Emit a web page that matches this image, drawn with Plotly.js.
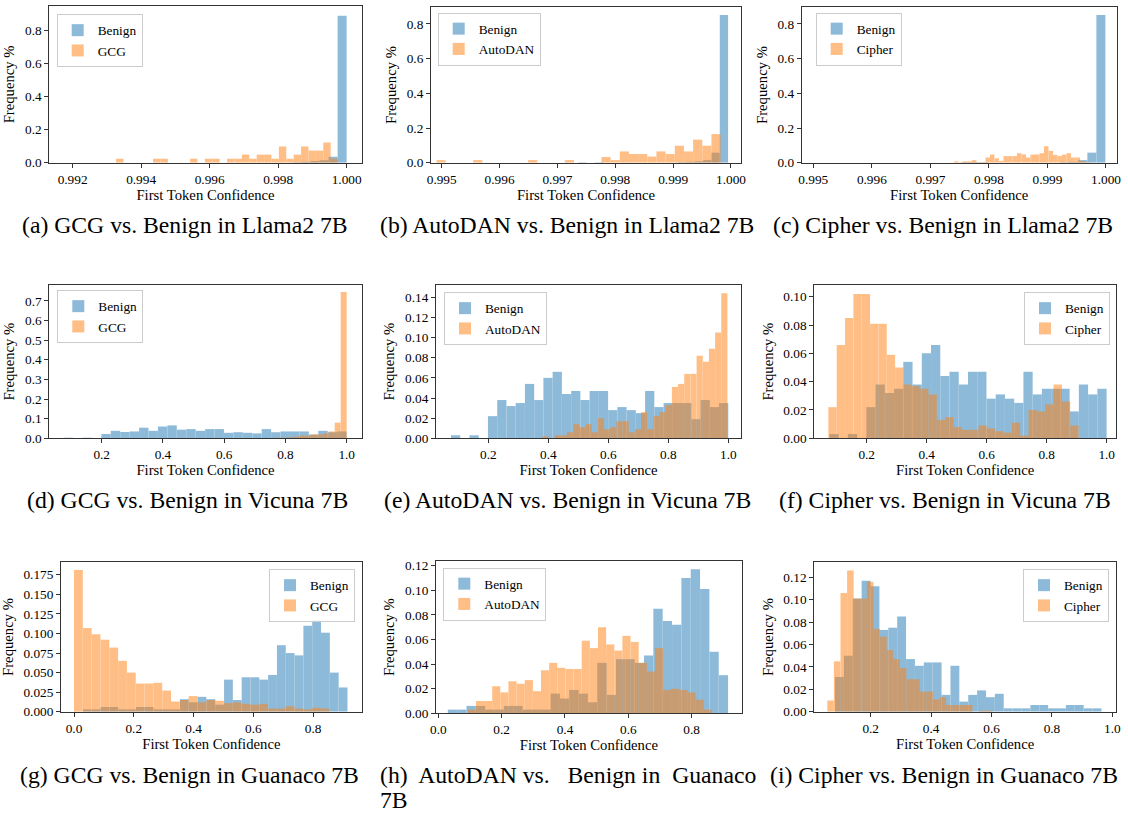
<!DOCTYPE html>
<html><head><meta charset="utf-8">
<script src="https://cdn.plot.ly/plotly-3.0.1.min.js"></script>
<style>html,body{margin:0;padding:0;background:#fff;}#chart{width:1128px;height:815px;}</style>
</head><body><div id="chart"></div>
<script>
// ---------------- DATA (histogram bins: start, width, heights) ----------------
const attackNames = ['GCG','AutoDAN','Cipher','GCG','AutoDAN','Cipher','GCG','AutoDAN','Cipher'];
const captions = ['(a) GCG vs. Benign in Llama2 7B','(b) AutoDAN vs. Benign in Llama2 7B','(c) Cipher vs. Benign in Llama2 7B',
  '(d) GCG vs. Benign in Vicuna 7B','(e) AutoDAN vs. Benign in Vicuna 7B','(f) Cipher vs. Benign in Vicuna 7B',
  '(g) GCG vs. Benign in Guanaco 7B','(h)\u00a0 AutoDAN vs.\u00a0\u00a0 Benign in\u00a0 Guanaco','7B','(i) Cipher vs. Benign in Guanaco 7B'];

// (a) Llama2 7B: Benign / GCG
const aBenignStart = 0.99211, aBenignWidth = 0.000263;
const aBenign = [0,0,0,0,0,0,0,0,0,0,0,0,0,0,0,0,0,0,0,0,0,0,0,0,0.003,0.005,0.010,0.015,0.036,0.888];
const aAttackStart = 0.99327, aAttackWidth = 0.000216;
const aAttack = [0.024,0,0,0,0,0.024,0.024,0,0,0,0.024,0,0.024,0.024,0,0.024,0.024,0.049,0.024,0.049,0.049,0.024,0.098,0.024,0.049,0.098,0.073,0.073,0.122,0.024];

// (b) Llama2 7B: Benign / AutoDAN
const bBenignStart = 0.99563, bBenignWidth = 0.000144;
const bBenign = [0,0,0,0,0,0,0,0,0,0,0,0,0.003,0,0.003,0,0,0,0,0,0,0,0,0,0.003,0.005,0.008,0.015,0.058,0.852];
const bAttackStart = 0.99491, bAttackWidth = 0.0001584;
const bAttack = [0.015,0,0,0,0.015,0,0,0,0,0,0.015,0,0,0,0.015,0,0,0,0.033,0.015,0.065,0.050,0.050,0.035,0.065,0.050,0.098,0.065,0.133,0.098,0.165];

// (c) Llama2 7B: Benign / Cipher
const cBenignStart = 0.99537, cBenignWidth = 0.000154;
const cBenign = [0,0,0,0,0,0,0,0,0,0,0,0,0,0,0.003,0.003,0.003,0,0,0,0,0,0,0,0,0.003,0.005,0.015,0.058,0.852];
const cAttackStart = 0.997403, cAttackWidth = 0.0000769;
const cAttack = [0.008,0.003,0.008,0.008,0.015,0.003,0.003,0.030,0.047,0.025,0.010,0.038,0.038,0.038,0.055,0.048,0.030,0.047,0.047,0.055,0.095,0.068,0.045,0.038,0.047,0.055,0.030,0.030,0.010,0.005];

// Vicuna 7B benign (shared by d, e, f)
const vicunaBenignStart = 0.0756, vicunaBenignWidth = 0.0308;
const vicunaBenign = [0.003,0,0.003,0,0.022,0.038,0.032,0.035,0.054,0.038,0.060,0.066,0.044,0.047,0.038,0.047,0.047,0.028,0.031,0.028,0.025,0.047,0.031,0.035,0.035,0.035,0.019,0.038,0.031,0.035];
// (d) GCG
const dAttackStart = 0.412, dAttackWidth = 0.0196;
const dAttack = [0,0,0,0,0,0,0,0,0,0,0,0,0,0,0,0,0,0,0.003,0.003,0.005,0.008,0.014,0.014,0.020,0.020,0.025,0.035,0.080,0.745];
// (e) AutoDAN
const eAttackStart = 0.380, eAttackWidth = 0.02056;
const eAttack = [0.002,0,0.003,0.003,0.006,0.014,0.011,0.014,0.006,0.020,0.009,0.011,0.017,0.017,0.006,0.009,0.026,0.009,0.022,0.026,0.033,0.051,0.054,0.064,0.064,0.082,0.076,0.089,0.105,0.144];
// (f) Cipher
const fAttackStart = 0.0722, fAttackWidth = 0.0278;
const fAttack = [0.022,0.066,0.085,0.102,0.102,0.081,0.081,0.059,0.050,0.038,0.037,0.035,0.031,0.013,0.015,0.008,0.006,0.006,0.009,0.007,0.005,0.004,0.011,0.002,0.020,0.019,0.024,0.038,0.026,0.009];

// Guanaco 7B benign (shared by g, h)
const guanacoBenignStart = 0.030, guanacoBenignWidth = 0.0295;
const guanacoBenign = [0.003,0.003,0.006,0.006,0.003,0.003,0.006,0.006,0.003,0.003,0.003,0.016,0.012,0.019,0.016,0.009,0.041,0.015,0.044,0.044,0.041,0.047,0.085,0.075,0.072,0.110,0.117,0.101,0.050,0.031];
// (g) GCG
const gAttackStart = 0.0, gAttackWidth = 0.0295;
const gAttack = [0.181,0.107,0.099,0.092,0.082,0.065,0.050,0.036,0.036,0.037,0.027,0.013,0.015,0.020,0.012,0.015,0.014,0.011,0.012,0.010,0.009,0.010,0.004,0.004,0.007,0.004,0.003,0.005,0.004,0];
// (h) AutoDAN
const hAttackStart = 0.093, hAttackWidth = 0.0257;
const hAttack = [0.003,0.010,0.010,0.022,0.017,0.026,0.024,0.027,0.018,0.035,0.041,0.037,0.036,0.036,0.059,0.053,0.070,0.056,0.051,0.063,0.058,0.041,0.034,0.053,0.019,0.020,0.019,0.017,0.011,0.003];
// (i) Guanaco benign / Cipher
const iBenignStart = 0.0818, iBenignWidth = 0.0294;
const iBenign = [0.031,0.050,0.101,0.117,0.112,0.073,0.075,0.085,0.047,0.041,0.044,0.044,0.015,0.041,0.009,0.015,0.019,0.013,0.016,0.003,0.003,0.003,0.006,0.006,0.003,0.003,0.006,0.006,0.003,0.003];
const iAttackStart = 0.0563, iAttackWidth = 0.02185;
const iAttack = [0.010,0.045,0.106,0.126,0.101,0.101,0.116,0.074,0.067,0.055,0.047,0.039,0.029,0.029,0.018,0.018,0.011,0.013,0.006,0.006,0.006,0.006,0,0.001,0.001,0,0,0,0,0];

const panelData = [
  [aBenignStart,aBenignWidth,aBenign,aAttackStart,aAttackWidth,aAttack],
  [bBenignStart,bBenignWidth,bBenign,bAttackStart,bAttackWidth,bAttack],
  [cBenignStart,cBenignWidth,cBenign,cAttackStart,cAttackWidth,cAttack],
  [vicunaBenignStart,vicunaBenignWidth,vicunaBenign,dAttackStart,dAttackWidth,dAttack],
  [vicunaBenignStart,vicunaBenignWidth,vicunaBenign,eAttackStart,eAttackWidth,eAttack],
  [vicunaBenignStart,vicunaBenignWidth,vicunaBenign,fAttackStart,fAttackWidth,fAttack],
  [guanacoBenignStart,guanacoBenignWidth,guanacoBenign,gAttackStart,gAttackWidth,gAttack],
  [guanacoBenignStart,guanacoBenignWidth,guanacoBenign,hAttackStart,hAttackWidth,hAttack],
  [iBenignStart,iBenignWidth,iBenign,iAttackStart,iAttackWidth,iAttack]
];

// ---------------- LAYOUT / STYLE ----------------
const W = 1128, H = 815;
const FONT = 'Liberation Serif, Times New Roman, Times, serif';
const BLUE = '#1f77b4', ORANGE = '#ff7f0e', AX = '#333333';

const boxes = [
  [49.3,361.7,6,162.7],[431,741,7.3,162.7],[801.7,1116.7,7.3,162.7],
  [49.3,361.7,285,438.3],[436,741,285,438.3],[814.3,1116,285,438.3],
  [61,361.7,562.3,711.7],[436,741.7,561,713.3],[814.3,1116,562.3,711.7]
];
const axisCfg = [
  {xr:[0.99132,1.00044],x0:0.992,dx:0.002,xf:'.3f',yr:[0,0.947],dy:0.2,yf:'.1f'},
  {xr:[0.994815,1.000173],x0:0.995,dx:0.001,xf:'.3f',yr:[0,0.896],dy:0.2,yf:'.1f'},
  {xr:[0.994802,1.000183],x0:0.995,dx:0.001,xf:'.3f',yr:[0,0.896],dy:0.2,yf:'.1f'},
  {xr:[0.0289,1.049],x0:0,dx:0.2,xf:'.1f',yr:[0,0.781],dy:0.1,yf:'.1f'},
  {xr:[0.0257,1.042],x0:0,dx:0.2,xf:'.1f',yr:[0,0.1522],dy:0.02,yf:'.2f'},
  {xr:[0.0253,1.031],x0:0,dx:0.2,xf:'.1f',yr:[0,0.1083],dy:0.02,yf:'.2f'},
  {xr:[-0.0435,0.9626],x0:0,dx:0.2,xf:'.1f',yr:[0,0.191],dy:0.025,yf:'.3f'},
  {xr:[-0.0073,0.958],x0:0,dx:0.2,xf:'.1f',yr:[0,0.1238],dy:0.02,yf:'.2f'},
  {xr:[0.0133,1.012],x0:0,dx:0.2,xf:'.1f',yr:[0,0.1334],dy:0.02,yf:'.2f'}
];
// legend anchor: [px x, px y, xanchor]
const legendPos = [
  [56.7,14,'left'],[437.7,12.5,'left'],[815.7,12.5,'left'],
  [57.3,290,'left'],[444,292,'left'],[1110,292,'right'],
  [355,569,'right'],[443.3,567.5,'left'],[1109,569,'right']
];
// caption positions: [px x, px y, xanchor]
const captionPos = [
  [185,225,'center'],[566.5,225,'center'],[943,225,'center'],
  [187,500,'center'],[567.5,500,'center'],[944.5,500,'center'],
  [189,775,'center'],[378,775,'left'],[378,800,'left'],[944,775,'center']
];

function centers(start, width, n){ const c=[]; for(let i=0;i<n;i++) c.push(start+width*(i+0.5)); return c; }

const traces = [];
const layout = {
  width: W, height: H, margin:{l:0,r:0,t:0,b:0},
  paper_bgcolor:'#fff', plot_bgcolor:'#fff',
  barmode:'overlay', showlegend:true, hovermode:false,
  font:{family:FONT, size:13, color:'#000'},
  annotations: []
};

panelData.forEach((p, i) => {
  const n = i+1, sfx = n===1 ? '' : String(n);
  const legName = 'legend' + sfx;
  const [bs,bw,bv,as,aw,av] = p;
  traces.push({type:'bar', x:centers(bs,bw,bv.length), y:bv, width:bw, name:'Benign',
    marker:{color:BLUE, line:{width:0}}, opacity:0.5, xaxis:'x'+sfx, yaxis:'y'+sfx, legend:legName});
  traces.push({type:'bar', x:centers(as,aw,av.length), y:av, width:aw, name:attackNames[i],
    marker:{color:ORANGE, line:{width:0}}, opacity:0.5, xaxis:'x'+sfx, yaxis:'y'+sfx, legend:legName});
  const b = boxes[i], c = axisCfg[i];
  layout['xaxis'+sfx] = {
    domain:[b[0]/W, b[1]/W], anchor:'y'+sfx, range:c.xr, tick0:c.x0, dtick:c.dx, tickformat:c.xf,
    showline:true, mirror:true, linecolor:AX, linewidth:1, ticks:'outside', ticklen:4, tickwidth:1, tickcolor:AX,
    showgrid:false, zeroline:false, automargin:false, tickfont:{family:FONT,size:13.3,color:'#000'},
    title:{text:'First Token Confidence', font:{family:FONT,size:14.7,color:'#000'}, standoff:2}
  };
  layout['yaxis'+sfx] = {
    domain:[1-b[3]/H, 1-b[2]/H], anchor:'x'+sfx, range:c.yr, tick0:0, dtick:c.dy, tickformat:c.yf,
    showline:true, mirror:true, linecolor:AX, linewidth:1, ticks:'outside', ticklen:4, tickwidth:1, tickcolor:AX,
    showgrid:false, zeroline:false, automargin:false, tickfont:{family:FONT,size:13.3,color:'#000'},
    title:{text:'Frequency %', font:{family:FONT,size:14.7,color:'#000'}, standoff:6}
  };
  const lp = legendPos[i];
  layout[legName] = {x:lp[0]/W, y:1-lp[1]/H, xanchor:lp[2], yanchor:'top', xref:'paper', yref:'paper',
    bgcolor:'rgba(255,255,255,0.85)', bordercolor:'#cccccc', borderwidth:1, traceorder:'normal',
    font:{family:FONT,size:13.3,color:'#000'}, itemwidth:30, tracegroupgap:0};
});

captions.forEach((t, k) => {
  const cp = captionPos[k];
  layout.annotations.push({text:t, xref:'paper', yref:'paper', x:cp[0]/W, y:1-cp[1]/H,
    xanchor:cp[2], yanchor:'middle', showarrow:false, font:{family:FONT,size:23.7,color:'#000'}});
});

Plotly.newPlot('chart', traces, layout, {staticPlot:true, displayModeBar:false});
</script></body></html>
